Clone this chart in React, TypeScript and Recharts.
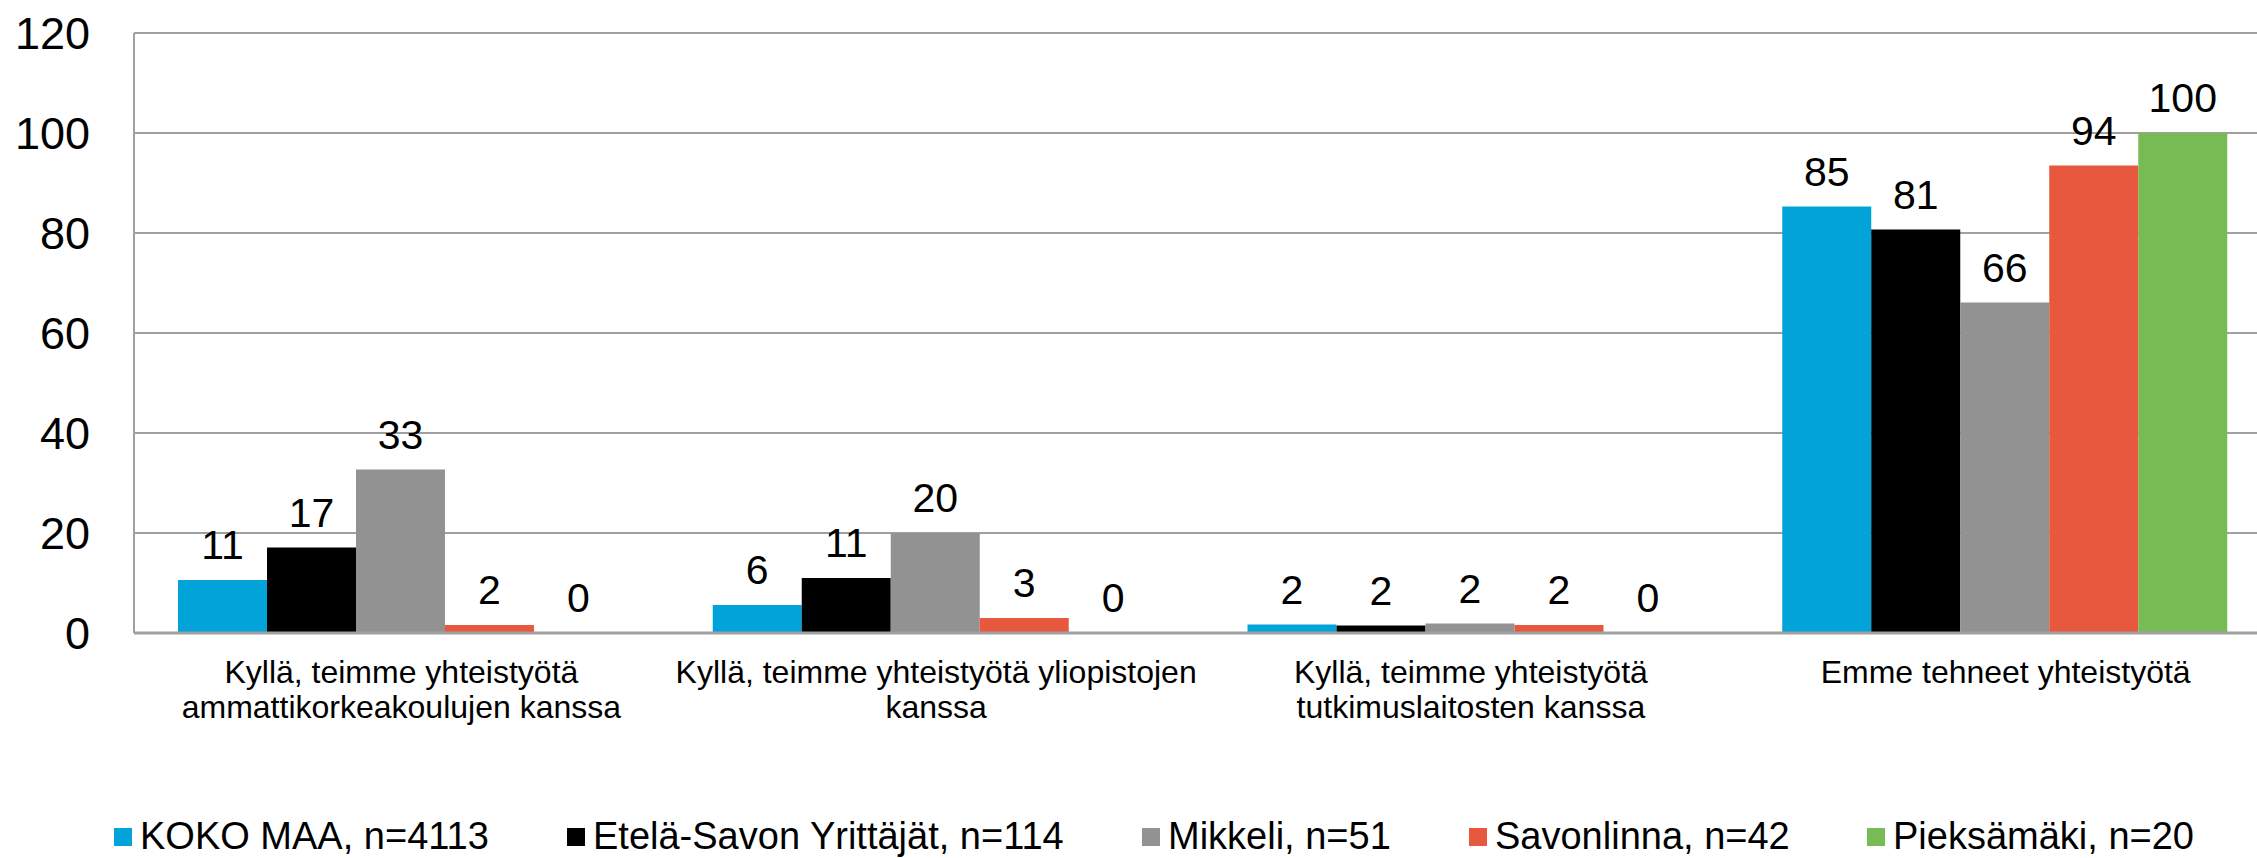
import React from 'react';
import {
  BarChart, Bar, XAxis, YAxis, CartesianGrid, Legend, LabelList,
} from 'recharts';

const categories = [
  'Kyllä, teimme yhteistyötä\nammattikorkeakoulujen kanssa',
  'Kyllä, teimme yhteistyötä yliopistojen\nkanssa',
  'Kyllä, teimme yhteistyötä\ntutkimuslaitosten kanssa',
  'Emme tehneet yhteistyötä',
];

const kokoMaa = [10.6, 5.6, 1.7, 85.3];
const etelaSavo = [17.1, 11.0, 1.5, 80.7];
const mikkeli = [32.7, 20.0, 1.9, 66.1];
const savonlinna = [1.6, 3.0, 1.6, 93.5];
const pieksamaki = [0, 0, 0, 100];

const yTicks = [0, 20, 40, 60, 80, 100, 120];

const series = [
  { key: 'koko', name: 'KOKO MAA, n=4113', color: '#02A3D9', values: kokoMaa },
  { key: 'etela', name: 'Etelä-Savon Yrittäjät, n=114', color: '#000000', values: etelaSavo },
  { key: 'mikkeli', name: 'Mikkeli, n=51', color: '#929292', values: mikkeli },
  { key: 'savonlinna', name: 'Savonlinna, n=42', color: '#E8583F', values: savonlinna },
  { key: 'pieksamaki', name: 'Pieksämäki, n=20', color: '#77BB55', values: pieksamaki },
];

const data = categories.map((cat, i) => {
  const row: Record<string, string | number> = { cat };
  series.forEach((s) => { row[s.key] = s.values[i]; });
  return row;
});

const FONT = '"Liberation Sans", Arial, sans-serif';
const GRID = '#A0A0A0';
// left edge of each legend swatch, as laid out in the original
const LEGEND_X = [114, 567, 1142, 1469, 1867];

function CategoryTick(props: any) {
  const { x, y, payload } = props;
  const lines = String(payload.value).split('\n');
  return (
    <text x={x} y={y} textAnchor="middle" fontSize={32} fill="#000" fontFamily={FONT}>
      {lines.map((l, i) => (
        <tspan key={i} x={x} dy={i === 0 ? 50 : 35}>{l}</tspan>
      ))}
    </text>
  );
}

function LegendBox() {
  return (
    <div style={{ position: 'relative', height: 50, fontFamily: FONT, fontSize: 38, lineHeight: '38px', color: '#000', whiteSpace: 'nowrap' }}>
      {series.map((s, i) => (
        <div key={s.key} style={{ position: 'absolute', left: LEGEND_X[i], top: 9, display: 'flex', alignItems: 'flex-start' }}>
          <span style={{ width: 18, height: 18, background: s.color, marginTop: 11, marginRight: 8, display: 'inline-block' }} />
          <span>{s.name}</span>
        </div>
      ))}
    </div>
  );
}

export default function App() {
  return (
    <div style={{ position: 'absolute', left: 0, top: 0, width: 2257, height: 858, overflow: 'hidden', background: '#fff' }}>
      <BarChart
        width={2290}
        height={858}
        data={data}
        margin={{ top: 33, right: 17, left: 0, bottom: 0 }}
        barCategoryGap={44}
        barGap={0}
        style={{ fontFamily: FONT }}
      >
        <CartesianGrid vertical={false} stroke={GRID} strokeWidth={2} />
        <XAxis
          dataKey="cat"
          height={175}
          tick={<CategoryTick />}
          tickLine={false}
          tickSize={0}
          tickMargin={0}
          interval={0}
          axisLine={{ stroke: GRID, strokeWidth: 3 }}
        />
        <YAxis
          width={134}
          domain={[0, 120]}
          ticks={yTicks}
          interval={0}
          tickLine={false}
          tickSize={0}
          tickMargin={44}
          axisLine={{ stroke: GRID, strokeWidth: 2 }}
          tick={{ fill: '#000', fontSize: 45, fontFamily: FONT }}
        />
        <Legend
          verticalAlign="bottom"
          wrapperStyle={{ left: 0, width: 2290, height: 50 }}
          content={() => <LegendBox />}
        />
        {series.map((s) => (
          <Bar
            key={s.key}
            dataKey={s.key}
            name={s.name}
            fill={s.color}
            minPointSize={0.01}
            isAnimationActive={false}
          >
            <LabelList
              dataKey={s.key}
              position="top"
              offset={21}
              formatter={(v: any) => String(Math.round(Number(v)))}
              style={{ fill: '#000', fontSize: 41, fontFamily: FONT }}
            />
          </Bar>
        ))}
      </BarChart>
    </div>
  );
}
